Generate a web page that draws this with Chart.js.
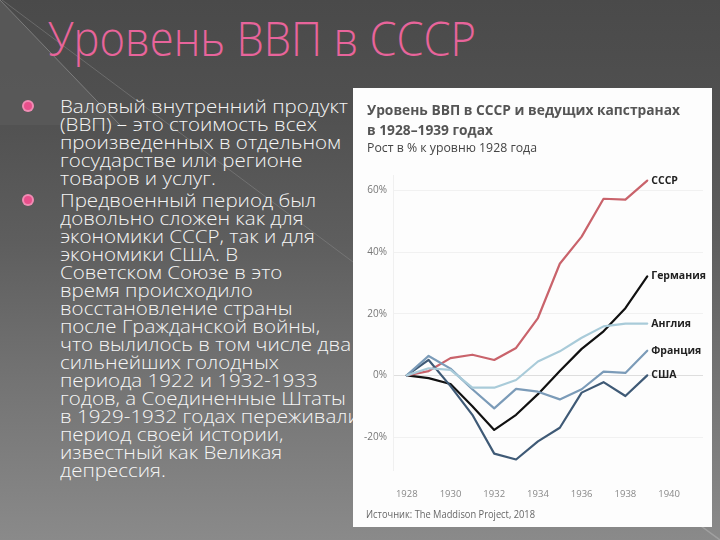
<!DOCTYPE html>
<html><head><meta charset="utf-8">
<script src="https://cdn.jsdelivr.net/npm/chart.js@4"></script>
<style>
html,body{margin:0;padding:0;}
body{width:720px;height:540px;position:relative;overflow:hidden;
background:linear-gradient(180deg,#4a4a4a 0%,#505050 20%,#5e5e5e 45%,#737373 70%,#8a8a8a 100%);
font-family:"Open Sans",sans-serif;}
#deco{position:absolute;left:0;top:0;}
#title{position:absolute;left:48px;top:14px;font-size:48px;line-height:48px;font-weight:300;color:#e8649b;white-space:nowrap;transform-origin:0 0;}
.line{position:absolute;left:60px;font-size:18px;line-height:18px;font-weight:300;color:#f6f6f6;white-space:nowrap;transform-origin:0 0;}
.bul{position:absolute;width:8px;height:8px;border-radius:50%;background:#e84f8b;box-shadow:0 0 0 2px #f08cb4;}
#panel{position:absolute;left:353px;top:88px;width:359px;height:439px;background:#fdfdfd;}
#panel canvas{position:absolute;left:0;top:0;}
.ct{position:absolute;left:14px;font-family:"Open Sans",sans-serif;font-weight:700;font-size:14px;line-height:14px;color:#555;white-space:nowrap;transform-origin:0 0;}
.cs{position:absolute;left:14px;font-family:"Open Sans",sans-serif;font-size:12px;line-height:12px;color:#444;white-space:nowrap;transform-origin:0 0;}
.src{position:absolute;left:13px;font-family:"Open Sans",sans-serif;font-size:11px;line-height:11px;color:#666;white-space:nowrap;transform-origin:0 0;}
</style></head>
<body>
<svg id="deco" width="720" height="540">
  <polygon points="0,0 120,125 0,125" fill="#5a5a5a" opacity="0.8"/>
  <line x1="0" y1="0" x2="120" y2="125" stroke="#9a9a9a" stroke-width="1" opacity="0.6"/>
  <line x1="2" y1="0" x2="353" y2="262" stroke="#8a8a8a" stroke-width="1" opacity="0.5"/>
  <line x1="690" y1="518" x2="720" y2="540" stroke="#b0b0b0" stroke-width="1.5" opacity="0.6"/>
</svg>

<div id="title" data-w="428">Уровень ВВП в СССР</div>

<div class="bul" style="left:24px;top:102px;"></div>
<div class="bul" style="left:24px;top:196px;"></div>

<div id="body"></div>

<div id="panel">
  <canvas id="c" width="359" height="439"></canvas>
  <div class="ct" style="top:15px" data-w="313">Уровень ВВП в СССР и ведущих капстранах</div>
  <div class="ct" style="top:35px" data-w="126">в 1928–1939 годах</div>
  <div class="cs" style="top:54px" data-w="170">Рост в % к уровню 1928 года</div>
  <div class="src" style="top:420px" data-w="169">Источник: The Maddison Project, 2018</div>
</div>

<script>
// ---- data ----
const years   = [1928,1929,1930,1931,1932,1933,1934,1935,1936,1937,1938,1939];
const ussr    = [0, 1.4, 5.6, 6.7, 5.0, 8.9, 18.6, 36.2, 45.0, 57.3, 57.0, 63.2];
const germany = [0, -0.9, -2.8, -10.0, -17.7, -12.8, -6.1, 1.4, 8.6, 14.3, 21.8, 32.1];
const uk      = [0, 2.3, 1.8, -4.0, -4.0, -1.5, 4.5, 7.8, 12.2, 15.9, 16.8, 16.8];
const france  = [0, 6.3, 2.2, -4.5, -10.7, -4.4, -5.3, -7.8, -4.5, 1.2, 0.8, 8.0];
const usa     = [0, 5.0, -3.5, -12.8, -25.4, -27.3, -21.4, -17.0, -5.6, -2.2, -6.7, 0];
const xTicks  = [1928,1930,1932,1934,1936,1938,1940];
const yTicks  = [-20,0,20,40,60];
const seriesNames = ["Англия","Франция","США","СССР","Германия"];

const bodyLines = [
 ["Валовый внутренний продукт","(ВВП) – это стоимость всех","произведенных в отдельном","государстве или регионе","товаров и услуг."],
 ["Предвоенный период был","довольно сложен как для","экономики СССР, так и для","экономики США. В","Советском Союзе в это","время происходило","восстановление страны","после Гражданской войны,","что вылилось в том числе два","сильнейших голодных","периода 1922 и 1932-1933","годов, а Соединенные Штаты","в 1929-1932 годах переживали","период своей истории,","известный как Великая","депрессия."]
];

const body = document.getElementById('body');
const tops = [97, 190.5];
bodyLines.forEach((para, pi) => {
  para.forEach((t, li) => {
    const d = document.createElement('div');
    d.className = 'line';
    d.style.top = (tops[pi] + li * 18) + 'px';
    d.textContent = t;
    body.appendChild(d);
  });
});

function mk(data){ return years.map((y,i)=>({x:y,y:data[i]})); }
const colors = ["#a9cbd9","#7b9bb8","#3f5a76","#c9636b","#111111"];
const datas = [uk, france, usa, ussr, germany];

const endLabels = {
  id:'endLabels',
  afterDatasetsDraw(chart){
    const ctx = chart.ctx;
    ctx.save();
    ctx.font = 'bold 10.5px "Open Sans", sans-serif';
    ctx.fillStyle = '#222';
    ctx.textBaseline = 'middle';
    chart.data.datasets.forEach((ds, i) => {
      const meta = chart.getDatasetMeta(i);
      const p = meta.data[meta.data.length-1];
      ctx.fillText(ds.label, p.x + 4, p.y);
    });
    ctx.restore();
  }
};

new Chart(document.getElementById('c'), {
  type:'line',
  data:{datasets: datas.map((d,i)=>({
    label: seriesNames[i], data: mk(d), borderColor: colors[i], backgroundColor: colors[i],
    borderWidth: 2.2, pointRadius: 0, tension: 0, borderJoinStyle:'round', borderCapStyle:'round'
  }))},
  options:{
    responsive:false, animation:false,
    layout:{padding:{top:87,right:9,left:0,bottom:0}},
    plugins:{legend:{display:false}, tooltip:{enabled:false}, title:{display:false}},
    scales:{
      x:{type:'linear', min:1927.37, max:1941.55,
         afterBuildTicks(s){ s.ticks = xTicks.map(v=>({value:v})); },
         afterFit(s){ s.height = 57; },
         grid:{display:false}, border:{display:false},
         ticks:{padding:11, color:'#888', font:{family:'Open Sans', size:9.5}, callback:v=>String(v), maxRotation:0, autoSkip:false}},
      y:{min:-30.7, max:65,
         afterBuildTicks(s){ s.ticks = yTicks.map(v=>({value:v})); },
         afterFit(s){ s.width = 40; },
         grid:{drawTicks:false, color:c=> (c.tick && c.tick.value===0) ? '#dedede' : '#f1f1f1', lineWidth:1},
         border:{display:true, color:'#f0f0f0'},
         ticks:{padding:6, color:'#777', font:{family:'Open Sans', size:10}, callback:v=>v+'%'}}
    }
  },
  plugins:[endLabels]
});

function fitAll(){
  document.querySelectorAll('[data-w]').forEach(el=>{
    el.style.transform='none';
    const w = el.getBoundingClientRect().width;
    const t = parseFloat(el.dataset.w);
    if (w>0) el.style.transform = 'scaleX(' + (t/w) + ')';
  });
  const lines = document.querySelectorAll('.line');
  lines.forEach(l=>l.style.transform='none');
  const w0 = lines[0].getBoundingClientRect().width;
  const s = 288 / w0;
  lines.forEach(l=>l.style.transform='scaleX(' + s + ')');
}
fitAll();
if (document.fonts && document.fonts.ready) document.fonts.ready.then(fitAll);
</script>
</body></html>
